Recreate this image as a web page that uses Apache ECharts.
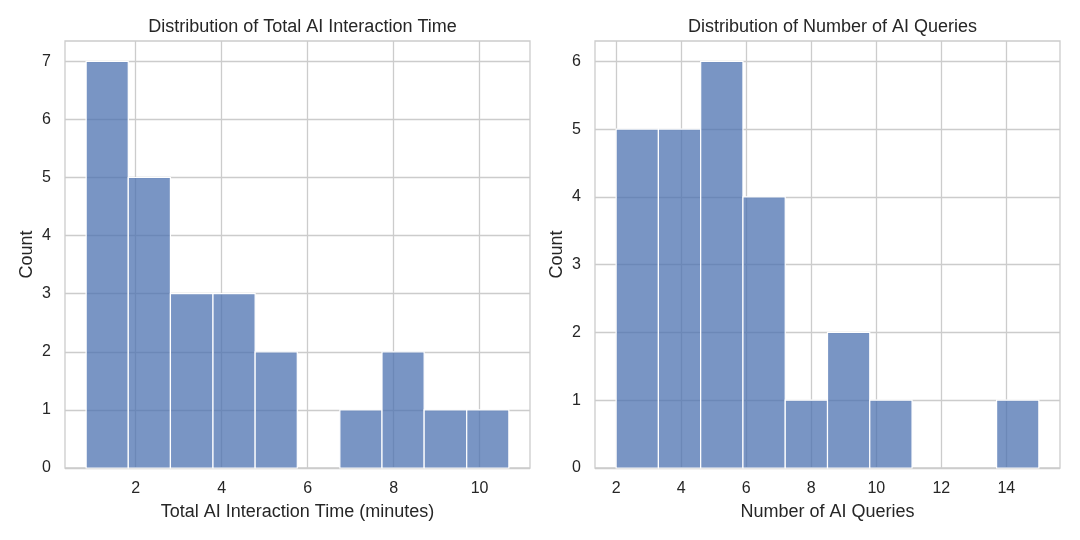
<!DOCTYPE html>
<html>
<head>
<meta charset="utf-8">
<script src="https://cdn.jsdelivr.net/npm/echarts@6/dist/echarts.min.js"></script>
<style>
html,body{margin:0;padding:0;background:#fff;}
#chart{width:1080px;height:540px;}
</style>
</head>
<body>
<div id="chart"></div>
<script>
// Histogram 1: Total AI Interaction Time
var timeBinEdges = [0.85, 1.83, 2.81, 3.80, 4.78, 5.76, 6.75, 7.73, 8.71, 9.70, 10.68];
var timeCounts = [7, 5, 3, 3, 2, 0, 1, 2, 1, 1];
var timeXTicks = [2, 4, 6, 8, 10];
var timeYTicks = [0, 1, 2, 3, 4, 5, 6, 7];

// Histogram 2: Number of AI Queries
var queryBinEdges = [2, 3.3, 4.6, 5.9, 7.2, 8.5, 9.8, 11.1, 12.4, 13.7, 15];
var queryCounts = [5, 5, 6, 4, 1, 2, 1, 0, 0, 1];
var queryXTicks = [2, 4, 6, 8, 10, 12, 14];
var queryYTicks = [0, 1, 2, 3, 4, 5, 6];

var titles = ['Distribution of Total AI Interaction Time', 'Distribution of Number of AI Queries'];
var xNames = ['Total AI Interaction Time (minutes)', 'Number of AI Queries'];
var yName = 'Count';

function binsToData(edges, counts) {
  var out = [];
  for (var i = 0; i < counts.length; i++) {
    out.push([edges[i], edges[i + 1], counts[i]]);
  }
  return out;
}
function pad(edges, maxCount) {
  var lo = edges[0], hi = edges[edges.length - 1], m = (hi - lo) * 0.05;
  return {xmin: lo - m, xmax: hi + m, ymax: maxCount * 1.05};
}

var FONT = 'Arial, "Liberation Sans", "DejaVu Sans", sans-serif';
var TXT = '#262626';
var GRIDC = '#cccccc';

var r0 = pad(timeBinEdges, Math.max.apply(null, timeCounts));
var r1 = pad(queryBinEdges, Math.max.apply(null, queryCounts));

function xAxisDef(idx, r, ticks) {
  return {
    type: 'value', gridIndex: idx, min: r.xmin, max: r.xmax,
    name: xNames[idx], nameLocation: 'middle', nameGap: 35,
    nameTextStyle: {color: TXT, fontSize: 18, fontFamily: FONT},
    axisLine: {show: false},
    axisTick: {show: false, customValues: ticks},
    axisLabel: {customValues: ticks, color: TXT, fontSize: 16, fontFamily: FONT, margin: 13},
    splitLine: {show: true, lineStyle: {color: GRIDC, width: 1.3}}
  };
}
function yAxisDef(idx, r, ticks) {
  return {
    type: 'value', gridIndex: idx, min: 0, max: r.ymax,
    name: yName, nameLocation: 'middle', nameGap: 29,
    nameTextStyle: {color: TXT, fontSize: 18, fontFamily: FONT},
    axisLine: {show: false},
    axisTick: {show: false, customValues: ticks},
    axisLabel: {customValues: ticks, color: TXT, fontSize: 16, fontFamily: FONT, margin: 14},
    splitLine: {show: true, lineStyle: {color: GRIDC, width: 1.3}}
  };
}
function renderBar(params, api) {
  var x0 = api.value(0), x1 = api.value(1), c = api.value(2);
  if (!c) return null;
  var p0 = api.coord([x0, c]);
  var p1 = api.coord([x1, 0]);
  return {
    type: 'rect',
    shape: {x: p0[0], y: p0[1], width: p1[0] - p0[0], height: p1[1] - p0[1]},
    style: {fill: 'rgba(76,114,176,0.75)', stroke: '#ffffff', lineWidth: 1.2}
  };
}

var chart = echarts.init(document.getElementById('chart'), null, {renderer: 'canvas'});
chart.setOption({
  backgroundColor: '#ffffff',
  animation: false,
  title: [
    {text: titles[0], left: 297.5, top: 13, textAlign: 'center',
     textStyle: {color: TXT, fontSize: 18, fontWeight: 'normal', fontFamily: FONT}},
    {text: titles[1], left: 827.5, top: 13, textAlign: 'center',
     textStyle: {color: TXT, fontSize: 18, fontWeight: 'normal', fontFamily: FONT}}
  ],
  grid: [
    {left: 65, right: 550, top: 41, bottom: 72, show: true, borderColor: GRIDC, borderWidth: 1.3, backgroundColor: 'transparent'},
    {left: 595, right: 20, top: 41, bottom: 72, show: true, borderColor: GRIDC, borderWidth: 1.3, backgroundColor: 'transparent'}
  ],
  xAxis: [xAxisDef(0, r0, timeXTicks), xAxisDef(1, r1, queryXTicks)],
  yAxis: [yAxisDef(0, r0, timeYTicks), yAxisDef(1, r1, queryYTicks)],
  series: [
    {type: 'custom', xAxisIndex: 0, yAxisIndex: 0, renderItem: renderBar,
     encode: {x: [0, 1], y: 2}, data: binsToData(timeBinEdges, timeCounts)},
    {type: 'custom', xAxisIndex: 1, yAxisIndex: 1, renderItem: renderBar,
     encode: {x: [0, 1], y: 2}, data: binsToData(queryBinEdges, queryCounts)}
  ]
});
</script>
</body>
</html>
